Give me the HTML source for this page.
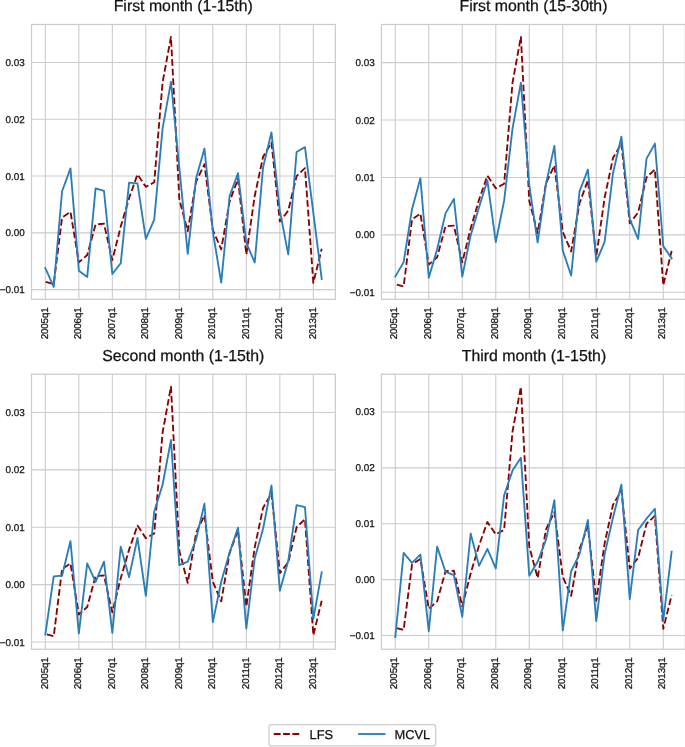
<!DOCTYPE html>
<html><head><meta charset="utf-8"><title>LFS vs MCVL</title>
<style>
html,body{margin:0;padding:0;background:#ffffff;}
svg{display:block;will-change:transform;}
text{font-family:"Liberation Sans",sans-serif;fill:#111111;stroke:#111111;stroke-width:0.25px;text-rendering:geometricPrecision;}
.tt{font-size:15.85px;text-anchor:middle;}
.yt{font-size:9.9px;text-anchor:end;}
.xt{font-size:9.9px;text-anchor:start;}
.lg{font-size:12.87px;}
.g{stroke:#cccccc;stroke-width:1.1;fill:none;}
.ax{stroke:#cccccc;stroke-width:1.25;fill:none;}
.r{stroke:#8b0000;stroke-width:1.85;fill:none;stroke-dasharray:6.693 2.894;stroke-linejoin:round;}
.b{stroke:#2a7db8;stroke-width:1.85;fill:none;stroke-linejoin:round;stroke-linecap:square;}
</style></head>
<body>
<svg width="685" height="747" viewBox="0 0 685 747">
<rect x="0" y="0" width="685" height="747" fill="#ffffff"/>
<!-- panel 1: First month (1-15th) -->
<g>
<clipPath id="c0"><rect x="31.50" y="24.50" width="303.90" height="274.85"/></clipPath>
<path class="g" d="M45.34 24.50V299.35M78.84 24.50V299.35M112.34 24.50V299.35M145.84 24.50V299.35M179.34 24.50V299.35M212.84 24.50V299.35M246.34 24.50V299.35M279.84 24.50V299.35M313.34 24.50V299.35M31.50 289.64H335.40M31.50 232.85H335.40M31.50 176.06H335.40M31.50 119.27H335.40M31.50 62.48H335.40"/>
<g clip-path="url(#c0)">
<polyline class="r" stroke-dashoffset="-0.31" points="45.34,281.69 53.72,283.96 62.09,217.52 70.47,211.84 78.84,262.38 87.22,255.00 95.59,224.33 103.97,223.76 112.34,260.11 120.72,226.60 129.09,198.21 137.47,174.36 145.84,186.85 154.22,182.31 162.59,82.36 170.97,36.92 179.34,199.34 187.72,231.15 196.09,181.74 204.47,164.13 212.84,230.01 221.22,249.32 229.59,201.62 237.97,178.90 246.34,254.43 254.72,195.94 263.09,156.75 271.47,142.55 279.84,221.49 288.22,210.70 296.59,176.06 304.97,168.11 313.34,282.83 321.72,248.75"/>
<polyline class="b" points="45.34,268.00 53.72,286.97 62.09,191.22 70.47,168.39 78.84,270.67 87.22,276.92 95.59,188.33 103.97,190.77 112.34,274.02 120.72,263.29 129.09,182.70 137.47,183.44 145.84,238.87 154.22,219.67 162.59,128.36 170.97,81.79 179.34,167.54 187.72,253.86 196.09,178.33 204.47,148.52 212.84,231.71 221.22,282.71 229.59,196.11 237.97,173.22 246.34,242.85 254.72,262.49 263.09,167.20 271.47,132.33 279.84,210.70 288.22,254.43 296.59,151.98 304.97,147.10 313.34,212.97 321.72,278.85"/>
</g>
<rect class="ax" x="31.50" y="24.50" width="303.90" height="274.85"/>
<text class="yt" x="24.80" y="293.14">−0.01</text>
<text class="yt" x="24.80" y="236.35">0.00</text>
<text class="yt" x="24.80" y="179.56">0.01</text>
<text class="yt" x="24.80" y="122.77">0.02</text>
<text class="yt" x="24.80" y="65.98">0.03</text>
<text class="xt" transform="translate(47.54 339.35) rotate(-90)" textLength="32.1">2005q1</text>
<text class="xt" transform="translate(81.04 339.35) rotate(-90)" textLength="32.1">2006q1</text>
<text class="xt" transform="translate(114.54 339.35) rotate(-90)" textLength="32.1">2007q1</text>
<text class="xt" transform="translate(148.04 339.35) rotate(-90)" textLength="32.1">2008q1</text>
<text class="xt" transform="translate(181.54 339.35) rotate(-90)" textLength="32.1">2009q1</text>
<text class="xt" transform="translate(215.04 339.35) rotate(-90)" textLength="32.1">2010q1</text>
<text class="xt" transform="translate(248.54 339.35) rotate(-90)" textLength="32.1">2011q1</text>
<text class="xt" transform="translate(282.04 339.35) rotate(-90)" textLength="32.1">2012q1</text>
<text class="xt" transform="translate(315.54 339.35) rotate(-90)" textLength="32.1">2013q1</text>
<text class="tt" x="183.25" y="11.00">First month (1-15th)</text>
</g>
<!-- panel 2: First month (15-30th) -->
<g>
<clipPath id="c1"><rect x="381.45" y="24.50" width="303.90" height="274.85"/></clipPath>
<path class="g" d="M395.27 24.50V299.35M428.77 24.50V299.35M462.27 24.50V299.35M495.77 24.50V299.35M529.27 24.50V299.35M562.77 24.50V299.35M596.27 24.50V299.35M629.77 24.50V299.35M663.27 24.50V299.35M381.45 292.22H685.35M381.45 234.83H685.35M381.45 177.44H685.35M381.45 120.05H685.35M381.45 62.66H685.35"/>
<g clip-path="url(#c1)">
<polyline class="r" stroke-dashoffset="-1.6" points="395.27,284.19 403.64,286.48 412.02,219.33 420.39,213.60 428.77,264.67 437.14,257.21 445.52,226.22 453.89,225.65 462.27,262.38 470.64,228.52 479.02,199.82 487.39,175.72 495.77,188.34 504.14,183.75 512.52,82.75 520.89,36.83 529.27,200.97 537.64,233.11 546.02,183.18 554.39,165.39 562.77,231.96 571.14,251.47 579.52,203.27 587.89,180.31 596.27,256.64 604.64,197.53 613.02,157.93 621.39,143.58 629.77,223.35 638.14,212.45 646.52,177.44 654.89,169.41 663.27,285.33 671.64,250.90"/>
<polyline class="b" points="395.27,276.61 403.64,262.09 412.02,209.18 420.39,178.36 428.77,277.70 437.14,249.18 445.52,213.37 453.89,198.90 462.27,276.61 470.64,235.40 479.02,207.28 487.39,180.54 495.77,242.00 504.14,200.68 512.52,128.66 520.89,82.75 529.27,184.90 537.64,242.69 546.02,183.75 554.39,145.88 562.77,250.61 571.14,275.58 579.52,191.44 587.89,169.63 596.27,261.63 604.64,241.95 613.02,173.08 621.39,136.69 629.77,219.05 638.14,238.85 646.52,158.62 654.89,143.58 663.27,246.14 671.64,258.36"/>
</g>
<rect class="ax" x="381.45" y="24.50" width="303.90" height="274.85"/>
<text class="yt" x="374.75" y="295.72">−0.01</text>
<text class="yt" x="374.75" y="238.33">0.00</text>
<text class="yt" x="374.75" y="180.94">0.01</text>
<text class="yt" x="374.75" y="123.55">0.02</text>
<text class="yt" x="374.75" y="66.16">0.03</text>
<text class="xt" transform="translate(397.47 339.35) rotate(-90)" textLength="32.1">2005q1</text>
<text class="xt" transform="translate(430.97 339.35) rotate(-90)" textLength="32.1">2006q1</text>
<text class="xt" transform="translate(464.47 339.35) rotate(-90)" textLength="32.1">2007q1</text>
<text class="xt" transform="translate(497.97 339.35) rotate(-90)" textLength="32.1">2008q1</text>
<text class="xt" transform="translate(531.47 339.35) rotate(-90)" textLength="32.1">2009q1</text>
<text class="xt" transform="translate(564.97 339.35) rotate(-90)" textLength="32.1">2010q1</text>
<text class="xt" transform="translate(598.47 339.35) rotate(-90)" textLength="32.1">2011q1</text>
<text class="xt" transform="translate(631.97 339.35) rotate(-90)" textLength="32.1">2012q1</text>
<text class="xt" transform="translate(665.47 339.35) rotate(-90)" textLength="32.1">2013q1</text>
<text class="tt" x="533.50" y="11.00">First month (15-30th)</text>
</g>
<!-- panel 3: Second month (1-15th) -->
<g>
<clipPath id="c2"><rect x="31.50" y="374.20" width="303.90" height="275.05"/></clipPath>
<path class="g" d="M45.34 374.20V649.25M78.84 374.20V649.25M112.34 374.20V649.25M145.84 374.20V649.25M179.34 374.20V649.25M212.84 374.20V649.25M246.34 374.20V649.25M279.84 374.20V649.25M313.34 374.20V649.25M31.50 642.04H335.40M31.50 584.64H335.40M31.50 527.24H335.40M31.50 469.84H335.40M31.50 412.44H335.40"/>
<g clip-path="url(#c2)">
<polyline class="r" stroke-dashoffset="-1.6" points="45.34,634.00 53.72,636.30 62.09,569.14 70.47,563.40 78.84,614.49 87.22,607.03 95.59,576.03 103.97,575.46 112.34,612.19 120.72,578.33 129.09,549.63 137.47,525.52 145.84,538.15 154.22,533.55 162.59,432.53 170.97,386.61 179.34,550.77 187.72,582.92 196.09,532.98 204.47,515.19 212.84,581.77 221.22,601.29 229.59,553.07 237.97,530.11 246.34,606.45 254.72,547.33 263.09,507.72 271.47,493.37 279.84,573.16 288.22,562.25 296.59,527.24 304.97,519.20 313.34,635.15 321.72,600.71"/>
<polyline class="b" points="45.34,634.46 53.72,576.37 62.09,575.69 70.47,541.07 78.84,633.32 87.22,563.40 95.59,581.94 103.97,561.68 112.34,632.86 120.72,546.70 129.09,577.18 137.47,537.97 145.84,595.83 154.22,511.74 162.59,484.76 170.97,439.99 179.34,565.12 187.72,561.68 196.09,539.29 204.47,503.71 212.84,622.18 221.22,581.77 229.59,552.50 237.97,527.70 246.34,628.49 254.72,558.41 263.09,528.73 271.47,485.34 279.84,590.67 288.22,561.11 296.59,505.08 304.97,507.15 313.34,618.79 321.72,572.30"/>
</g>
<rect class="ax" x="31.50" y="374.20" width="303.90" height="275.05"/>
<text class="yt" x="24.80" y="645.54">−0.01</text>
<text class="yt" x="24.80" y="588.14">0.00</text>
<text class="yt" x="24.80" y="530.74">0.01</text>
<text class="yt" x="24.80" y="473.34">0.02</text>
<text class="yt" x="24.80" y="415.94">0.03</text>
<text class="xt" transform="translate(47.54 689.25) rotate(-90)" textLength="32.1">2005q1</text>
<text class="xt" transform="translate(81.04 689.25) rotate(-90)" textLength="32.1">2006q1</text>
<text class="xt" transform="translate(114.54 689.25) rotate(-90)" textLength="32.1">2007q1</text>
<text class="xt" transform="translate(148.04 689.25) rotate(-90)" textLength="32.1">2008q1</text>
<text class="xt" transform="translate(181.54 689.25) rotate(-90)" textLength="32.1">2009q1</text>
<text class="xt" transform="translate(215.04 689.25) rotate(-90)" textLength="32.1">2010q1</text>
<text class="xt" transform="translate(248.54 689.25) rotate(-90)" textLength="32.1">2011q1</text>
<text class="xt" transform="translate(282.04 689.25) rotate(-90)" textLength="32.1">2012q1</text>
<text class="xt" transform="translate(315.54 689.25) rotate(-90)" textLength="32.1">2013q1</text>
<text class="tt" x="183.25" y="361.00">Second month (1-15th)</text>
</g>
<!-- panel 4: Third month (1-15th) -->
<g>
<clipPath id="c3"><rect x="381.45" y="374.20" width="303.90" height="275.05"/></clipPath>
<path class="g" d="M395.27 374.20V649.25M428.77 374.20V649.25M462.27 374.20V649.25M495.77 374.20V649.25M529.27 374.20V649.25M562.77 374.20V649.25M596.27 374.20V649.25M629.77 374.20V649.25M663.27 374.20V649.25M381.45 635.50H685.35M381.45 579.61H685.35M381.45 523.72H685.35M381.45 467.83H685.35M381.45 411.94H685.35"/>
<g clip-path="url(#c3)">
<polyline class="r" stroke-dashoffset="-1.4" points="395.27,627.68 403.64,629.91 412.02,564.52 420.39,558.93 428.77,608.67 437.14,601.41 445.52,571.23 453.89,570.67 462.27,606.44 470.64,573.46 479.02,545.52 487.39,522.04 495.77,534.34 504.14,529.87 512.52,431.50 520.89,386.79 529.27,546.63 537.64,577.93 546.02,529.31 554.39,511.98 562.77,576.82 571.14,595.82 579.52,548.87 587.89,526.51 596.27,600.85 604.64,543.28 613.02,504.72 621.39,490.74 629.77,568.43 638.14,557.81 646.52,523.72 654.89,515.90 663.27,628.79 671.64,595.26"/>
<polyline class="b" points="395.27,637.06 403.64,552.89 412.02,562.84 420.39,554.68 428.77,631.25 437.14,546.63 445.52,571.79 453.89,575.14 462.27,616.78 470.64,533.50 479.02,565.81 487.39,548.87 495.77,568.43 504.14,495.22 512.52,470.62 520.89,457.77 529.27,575.70 537.64,561.73 546.02,539.70 554.39,500.25 562.77,630.30 571.14,571.23 579.52,554.12 587.89,520.03 596.27,621.08 604.64,554.12 613.02,517.57 621.39,484.60 629.77,599.17 638.14,529.98 646.52,518.69 654.89,508.74 663.27,620.30 671.64,551.66"/>
</g>
<rect class="ax" x="381.45" y="374.20" width="303.90" height="275.05"/>
<text class="yt" x="374.75" y="639.00">−0.01</text>
<text class="yt" x="374.75" y="583.11">0.00</text>
<text class="yt" x="374.75" y="527.22">0.01</text>
<text class="yt" x="374.75" y="471.33">0.02</text>
<text class="yt" x="374.75" y="415.44">0.03</text>
<text class="xt" transform="translate(397.47 689.25) rotate(-90)" textLength="32.1">2005q1</text>
<text class="xt" transform="translate(430.97 689.25) rotate(-90)" textLength="32.1">2006q1</text>
<text class="xt" transform="translate(464.47 689.25) rotate(-90)" textLength="32.1">2007q1</text>
<text class="xt" transform="translate(497.97 689.25) rotate(-90)" textLength="32.1">2008q1</text>
<text class="xt" transform="translate(531.47 689.25) rotate(-90)" textLength="32.1">2009q1</text>
<text class="xt" transform="translate(564.97 689.25) rotate(-90)" textLength="32.1">2010q1</text>
<text class="xt" transform="translate(598.47 689.25) rotate(-90)" textLength="32.1">2011q1</text>
<text class="xt" transform="translate(631.97 689.25) rotate(-90)" textLength="32.1">2012q1</text>
<text class="xt" transform="translate(665.47 689.25) rotate(-90)" textLength="32.1">2013q1</text>
<text class="tt" x="534.00" y="361.00">Third month (1-15th)</text>
</g>
<!-- legend -->
<g>
<rect x="269" y="724.7" width="166.7" height="21.2" rx="2.4" ry="2.4" fill="#ffffff" stroke="#cccccc" stroke-width="1.2"/>
<line x1="273.8" y1="734" x2="299.4" y2="734" stroke="#8b0000" stroke-width="1.85" stroke-dasharray="6.8 2.5"/>
<text class="lg" x="309.6" y="738.6">LFS</text>
<line x1="358.1" y1="734" x2="385.5" y2="734" stroke="#2a7db8" stroke-width="1.85"/>
<text class="lg" x="394.5" y="738.6">MCVL</text>
</g>
</svg>
</body></html>
